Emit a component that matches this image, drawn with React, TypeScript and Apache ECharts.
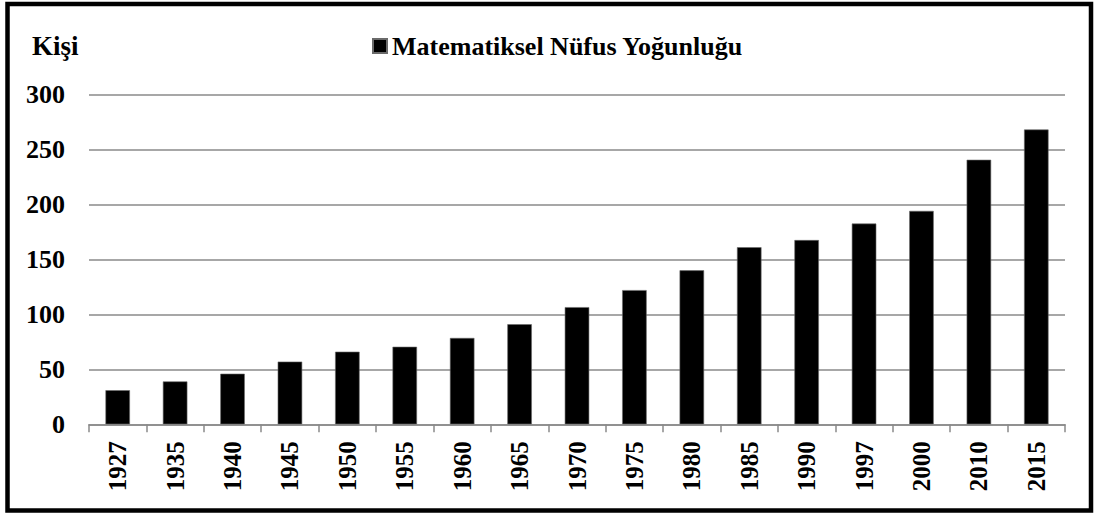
import React, { useEffect, useRef } from "react";
import * as echarts from "echarts";

const years = ["1927", "1935", "1940", "1945", "1950", "1955", "1960", "1965", "1970", "1975", "1980", "1985", "1990", "1997", "2000", "2010", "2015"];
const density = [31, 39, 46, 57, 66, 70.5, 78.5, 91, 106.5, 122, 140, 161, 167.5, 182.5, 194, 240.5, 268];
const seriesName = "Matematiksel Nüfus Yoğunluğu";
const yTitle = "Kişi";

const FONT = "Liberation Serif";

export default function App() {
  const ref = useRef<HTMLDivElement>(null);
  useEffect(() => {
    if (!ref.current) return;
    const chart = echarts.init(ref.current, undefined, { renderer: "svg" });
    chart.setOption({
      animation: false,
      backgroundColor: "#ffffff",
      textStyle: { fontFamily: FONT },
      title: {
        text: yTitle,
        left: 27,
        top: 27,
        textStyle: { fontFamily: FONT, fontSize: 27, fontWeight: "bold", color: "#000" },
      },
      legend: {
        data: [seriesName],
        left: 367,
        top: 28,
        icon: "rect",
        itemWidth: 14,
        itemHeight: 14,
        itemGap: 6,
        textStyle: { fontFamily: FONT, fontSize: 26, fontWeight: "bold", color: "#000", padding: [0, 0, 0, 0] },
      },
      grid: { left: 89, right: 29, top: 94.3, bottom: 90.7, containLabel: false },
      xAxis: {
        type: "category",
        data: years,
        axisLine: { lineStyle: { color: "#8a8a8a", width: 1.5 } },
        axisTick: { show: true, length: 8, alignWithLabel: false, lineStyle: { color: "#8a8a8a", width: 1.5 } },
        axisLabel: {
          rotate: 90,
          margin: 17,
          interval: 0,
          fontFamily: FONT,
          fontSize: 25,
          fontWeight: "bold",
          color: "#000",
        },
      },
      yAxis: {
        type: "value",
        min: 0,
        max: 300,
        interval: 50,
        axisLine: { show: false },
        axisTick: { show: false },
        splitLine: { lineStyle: { color: "#8a8a8a", width: 1.5 } },
        axisLabel: {
          margin: 24,
          fontFamily: FONT,
          fontSize: 26,
          fontWeight: "bold",
          color: "#000",
        },
      },
      series: [
        {
          name: seriesName,
          type: "bar",
          data: density,
          barWidth: 24.5,
          itemStyle: { color: "#000", borderColor: "#6a6a6a", borderWidth: 0.6 },
        },
      ],
      graphic: [
        {
          type: "rect",
          shape: { x: 7.5, y: 4, width: 1083.5, height: 506.5 },
          style: { fill: "none", stroke: "#000", lineWidth: 4.5 },
          silent: true,
          z: 100,
        },
      ],
    });
    return () => chart.dispose();
  }, []);
  return (
    <div
      ref={ref}
      style={{ position: "fixed", left: 0, top: 0, width: 1094, height: 515 }}
    />
  );
}
